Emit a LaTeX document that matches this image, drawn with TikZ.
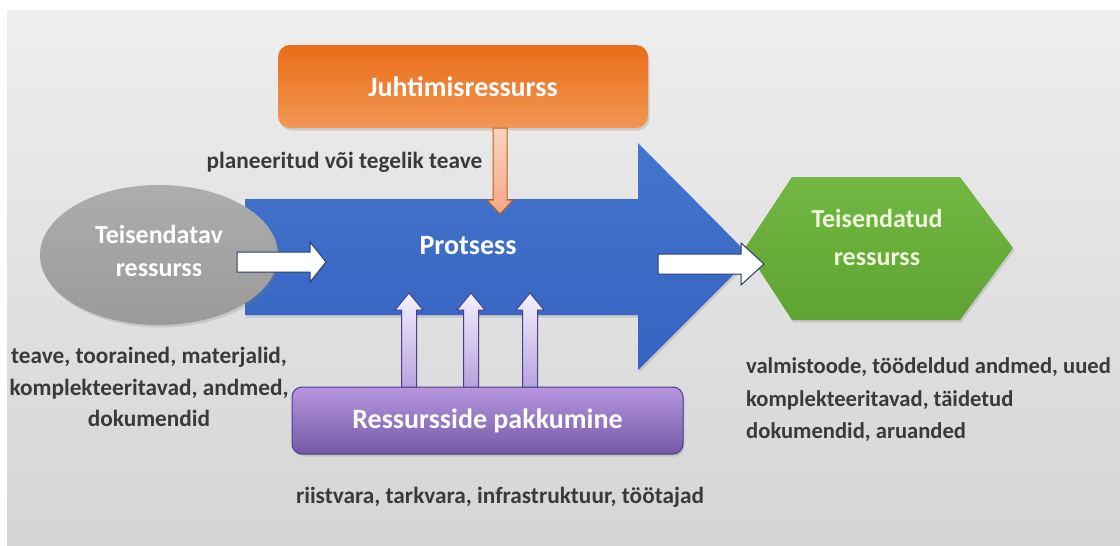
\documentclass[tikz,border=0pt]{standalone}
\usepackage{fontspec}
\setmainfont{Carlito}
\usetikzlibrary{shapes.geometric,shadows}

\definecolor{bgtop}{HTML}{EEEEEE}
\definecolor{bgbot}{HTML}{D5D5D5}
\definecolor{txt}{HTML}{3A3A3A}
\definecolor{orTop}{HTML}{E96D18}
\definecolor{orBot}{HTML}{F29654}
\definecolor{orLine}{HTML}{C0601F}
\definecolor{salmonTop}{HTML}{F9D2BE}
\definecolor{salmonBot}{HTML}{F5A885}
\definecolor{blTop}{HTML}{4475CC}
\definecolor{blBot}{HTML}{3563C2}
\definecolor{grayTop}{HTML}{ADADAD}
\definecolor{grayBot}{HTML}{9A9A9A}
\definecolor{navy}{HTML}{2B3C6E}
\definecolor{grTop}{HTML}{72B843}
\definecolor{grBot}{HTML}{5FA332}
\definecolor{grTxt}{HTML}{EEF8DC}
\definecolor{puTop}{HTML}{B796DE}
\definecolor{puBot}{HTML}{7558A6}
\definecolor{puLine}{HTML}{47408A}
\definecolor{lavTop}{HTML}{F4F0FC}
\definecolor{lavBot}{HTML}{B7A2DF}

\tikzset{
  softshadow/.style={drop shadow={opacity=0.25,shadow xshift=1.5pt,shadow yshift=-2.5pt}},
  headbox/.style={rounded corners=12pt, text=white, font=\bfseries\fontsize{28}{32}\selectfont, softshadow},
  label/.style={text=txt, font=\bfseries\fontsize{23.3}{31.5}\selectfont, inner sep=0pt},
  whitearrow/.style={fill=white, draw=navy, line width=1pt, line join=miter},
  uparrow/.style={top color=lavTop, bottom color=lavBot, draw=puLine, line width=1pt},
}

\begin{document}
\begin{tikzpicture}[x=1pt,y=-1pt]
\useasboundingbox (0,0) rectangle (1120,546);
\fill[white] (0,0) rectangle (1120,546);
% backdrop panel
\shade[top color=bgtop, bottom color=bgbot] (7,10) rectangle (1120,546);

% management resource box
\node[headbox, top color=orTop, bottom color=orBot, minimum width=370pt, minimum height=83pt]
  (juht) at (463,86.5) {Juhtimisressurss};

% large process arrow
\path[softshadow, top color=blTop, bottom color=blBot]
  (245,199) -- (638,199) -- (638,143) -- (751,257) -- (638,370) -- (638,315) -- (245,315) -- cycle;
\node[text=white, font=\bfseries\fontsize{28}{32}\selectfont] (proc) at (468,246) {Protsess};

% input resource ellipse and its caption
\node[ellipse, softshadow, top color=grayTop, bottom color=grayBot, minimum width=238pt,
  minimum height=140pt, inner sep=0pt] (src) at (159,255) {};
\node[align=center, text=white, font=\bfseries\fontsize{26}{33}\selectfont]
  (srctxt) at (159,251) {Teisendatav\\ressurss};

% output resource hexagon
\path[softshadow, top color=grTop, bottom color=grBot]
  (745,248) -- (792,177) -- (960,177) -- (1013,248) -- (960,320) -- (792,320) -- cycle;
\node[align=center, text=grTxt, font=\bfseries\fontsize{26}{38}\selectfont]
  (dst) at (877,237) {Teisendatud\\ressurss};

% resource provision box
\node[headbox, rounded corners=10pt, top color=puTop, bottom color=puBot, draw=puLine, line width=1pt,
  minimum width=391pt, minimum height=67pt, font=\bfseries\fontsize{28}{32}\selectfont]
  (prov) at (487.5,420.5) {Ressursside pakkumine};

% flow arrows: input -> process -> output
\path[whitearrow] (237,252) -- (310,252) -- (310,242) -- (326,262) -- (310,282) -- (310,272) -- (237,272) -- cycle;
\path[whitearrow] (658,254) -- (741,254) -- (741,243) -- (764,264) -- (741,285) -- (741,274) -- (658,274) -- cycle;

% control arrow from management
\path[top color=salmonTop, bottom color=salmonBot, draw=orLine, line width=1pt]
  (493,128) -- (507,128) -- (507,200) -- (513,200) -- (500,214) -- (487,200) -- (493,200) -- cycle;

% supply arrows into the process
\foreach \cx in {409,471,530}{
  \path[uparrow] (\cx-7.5,387) -- (\cx-7.5,310) -- (\cx-14,310) -- (\cx,293) -- (\cx+14,310) -- (\cx+7.5,310) -- (\cx+7.5,387) -- cycle;
}

% captions
\node[label] (lplan) at (344.5,162) {planeeritud või tegelik teave};
\node[label, align=center] (lin) at (149,387) {teave, toorained, materjalid,\\komplekteeritavad, andmed,\\dokumendid};
\node[label] (lhw) at (500,497) {riistvara, tarkvara, infrastruktuur, töötajad};
\node[label, align=left, anchor=west, font=\bfseries\fontsize{22.6}{32.5}\selectfont] (lout) at (746,400)
  {valmistoode, töödeldud andmed, uued\\komplekteeritavad, täidetud\\dokumendid, aruanded};
\end{tikzpicture}
\end{document}
